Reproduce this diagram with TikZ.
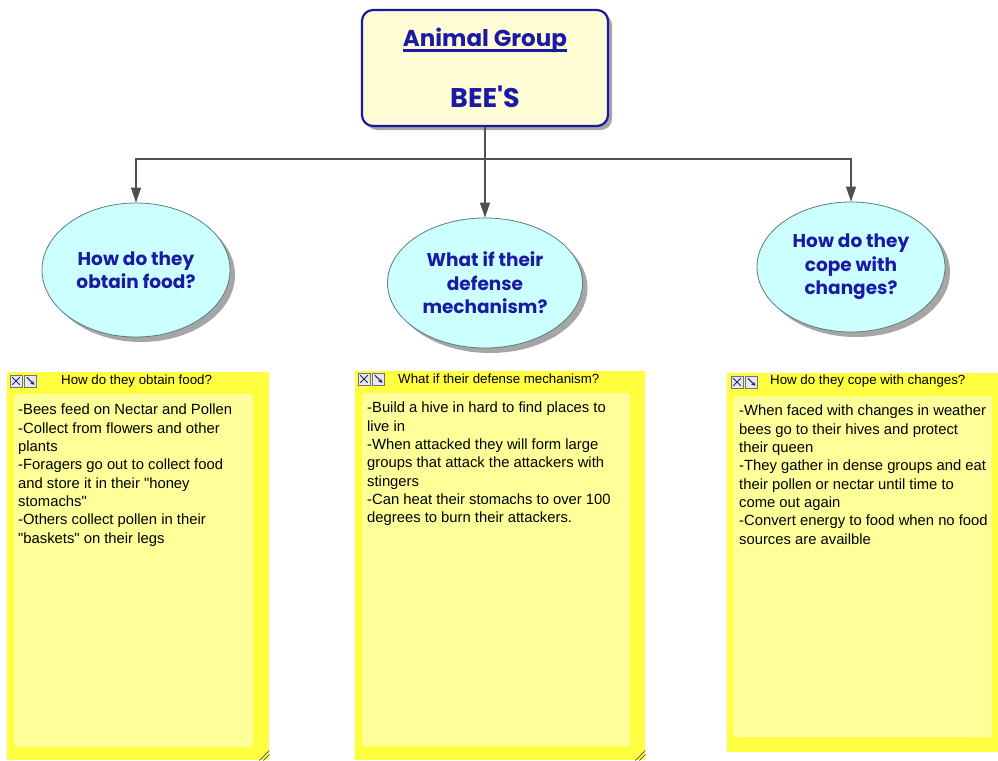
\documentclass[tikz,border=0pt]{standalone}
\usepackage{fontspec}
\setmainfont{Liberation Sans}
\newfontfamily\decofont{Poppins}
\usetikzlibrary{shapes.geometric,arrows.meta,shadows,positioning}
\definecolor{titleblue}{HTML}{1A1AA6}
\definecolor{boxfill}{HTML}{FFFCD6}
\definecolor{ellfill}{HTML}{CCFFFF}
\definecolor{elledge}{HTML}{5E7C7C}
\definecolor{noteouter}{HTML}{FFFF40}
\definecolor{noteinner}{HTML}{FFFF99}
\definecolor{linegray}{HTML}{505050}
\definecolor{iconedge}{HTML}{707080}
\definecolor{iconfill}{HTML}{E8E8F0}
\definecolor{iconmark}{HTML}{1A2A6A}
\newcommand{\myicons}[2]{%
  \node[iconbox] (#1x) at (#2) {};
  \node[iconbox, anchor=west] (#1r) at ([xshift=2pt]#1x.east) {};
  \draw[iconline] ([shift={(2.5,2.5)}]#1x.north west) -- ([shift={(-2.5,-2.5)}]#1x.south east);
  \draw[iconline] ([shift={(2.5,-2.5)}]#1x.south west) -- ([shift={(-2.5,2.5)}]#1x.north east);
  \draw[iconline,-{Stealth[length=4pt,width=4pt]}] ([shift={(2.5,2.5)}]#1r.north west) -- ([shift={(-2.5,-2.5)}]#1r.south east);
}
\newcommand{\qq}{\textquotedbl}
\newcommand{\mythickul}[1]{\setbox0\hbox{#1}\rlap{\vrule width\wd0 height -2pt depth 5pt}\box0}
\begin{document}
\begin{tikzpicture}[x=1pt,y=-1pt,
  mainbox/.style={draw=titleblue, line width=2.2pt, fill=boxfill, rounded corners=11pt,
    minimum width=246pt, minimum height=116pt, inner sep=0pt, align=center,
    text=titleblue, font=\decofont\bfseries,
    drop shadow={shadow xshift=4pt, shadow yshift=-4pt, fill=black, opacity=0.35}},
  question/.style={ellipse, draw=elledge, line width=0.8pt, fill=ellfill, inner sep=0pt,
    align=center, text=titleblue, font=\decofont\bfseries\fontsize{18.5}{23.5}\selectfont,
    drop shadow={shadow xshift=5pt, shadow yshift=-5pt, fill=black, opacity=0.35}},
  noteout/.style={fill=noteouter, draw=none, inner sep=0pt, anchor=north west},
  notein/.style={fill=noteinner, draw=none, rounded corners=3pt, inner sep=0pt, anchor=north west},
  notetitle/.style={anchor=west, inner sep=0pt, font=\fontsize{13.3}{16}\selectfont},
  notebody/.style={anchor=north west, inner sep=0pt, align=left, font=\fontsize{14.8}{18.3}\selectfont},
  iconbox/.style={draw=iconedge, fill=iconfill, line width=0.6pt, minimum width=12pt, minimum height=12pt, inner sep=0pt},
  iconline/.style={draw=iconmark, line width=1pt},
  conn/.style={draw=linegray, line width=1.2pt},
  arr/.style={-{Triangle[width=10pt,length=15pt]}},
  grip/.style={draw=linegray, line width=0.7pt}
]
\useasboundingbox (0,0) rectangle (998,760);
\fill[white] (0,0) rectangle (998,760);

% top box
\node[mainbox] (top) at (485,68) {{\fontsize{23}{28}\selectfont\mythickul{Animal Group}}\\[32pt]{\fontsize{27}{30}\selectfont BEE'S}};

% question ellipses
\node[question, minimum width=188pt, minimum height=134pt] (q1) at (136,270) {How do they\\obtain food?};
\node[question, minimum width=195pt, minimum height=130pt] (q2) at (485,283) {What if their\\defense\\mechanism?};
\node[question, minimum width=188pt, minimum height=130pt] (q3) at (851,267) {How do they\\cope with\\changes?};

% connectors
\coordinate (jn) at (485,159);
\draw[conn] (top.south) -- (jn);
\draw[conn,arr] (jn) -| (q1.north);
\draw[conn,arr] (jn) -- (q2.north);
\draw[conn,arr] (jn) -| (q3.north);

% note 1
\node[noteout, minimum width=262pt, minimum height=388pt] (n1) at (7,372) {};
\node[notein, minimum width=239pt, minimum height=353pt] (n1in) at (14,394) {};
\myicons{n1}{16,381}
\node[notetitle] (n1t) at (61,381) {How do they obtain food?};
\node[notebody] (n1b) at (18,404) {-Bees feed on Nectar and Pollen\\-Collect from flowers and other\\plants\\-Foragers go out to collect food\\and store it in their \qq honey\\stomachs\qq\\-Others collect pollen in their\\\qq baskets\qq{} on their legs};
\draw[grip] ([shift={(-10,0)}]n1.south east) -- ([shift={(0,-10)}]n1.south east);
\draw[grip] ([shift={(-6,0)}]n1.south east) -- ([shift={(0,-6)}]n1.south east);

% note 2
\node[noteout, minimum width=290pt, minimum height=389pt] (n2) at (355,371) {};
\node[notein, minimum width=268pt, minimum height=353pt] (n2in) at (362,393) {};
\myicons{n2}{364,379}
\node[notetitle] (n2t) at (398,379) {What if their defense mechanism?};
\node[notebody] (n2b) at (367,402) {-Build a hive in hard to find places to\\live in\\-When attacked they will form large\\groups that attack the attackers with\\stingers\\-Can heat their stomachs to over 100\\degrees to burn their attackers.};
\draw[grip] ([shift={(-10,0)}]n2.south east) -- ([shift={(0,-10)}]n2.south east);
\draw[grip] ([shift={(-6,0)}]n2.south east) -- ([shift={(0,-6)}]n2.south east);

% note 3
\node[noteout, minimum width=271pt, minimum height=379pt] (n3) at (727,373) {};
\node[notein, minimum width=259pt, minimum height=341pt] (n3in) at (733,396) {};
\myicons{n3}{737,382}
\node[notetitle] (n3t) at (770,381) {How do they cope with changes?};
\node[notebody] (n3b) at (739,405) {-When faced with changes in weather\\bees go to their hives and protect\\their queen\\-They gather in dense groups and eat\\their pollen or nectar until time to\\come out again\\-Convert energy to food when no food\\sources are availble};
\end{tikzpicture}
\end{document}
